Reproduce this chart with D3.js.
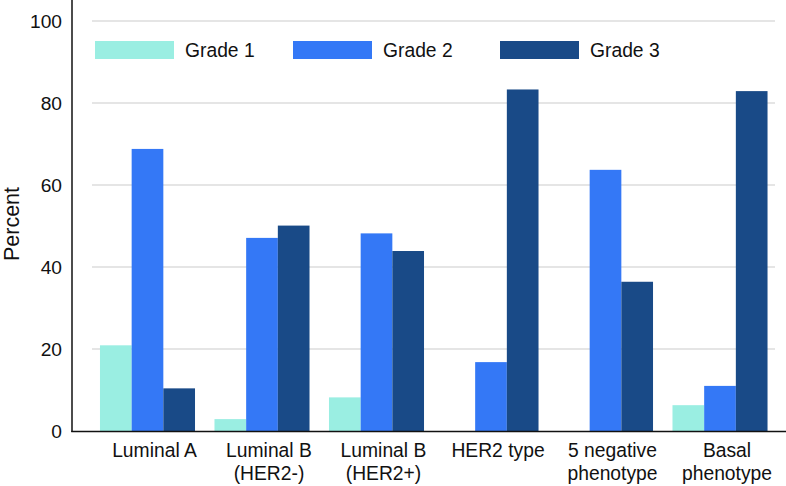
<!DOCTYPE html>
<html>
<head>
<meta charset="utf-8">
<script src="https://cdn.jsdelivr.net/npm/d3@7"></script>
<style>
  html, body { margin: 0; padding: 0; background: #fff; }
  svg { display: block; font-family: "Liberation Sans", Arial, Helvetica, sans-serif; }
</style>
</head>
<body>
<svg id="chart" width="786" height="486"></svg>
<script>
const categories = [["Luminal A"], ["Luminal B", "(HER2-)"], ["Luminal B", "(HER2+)"], ["HER2 type"], ["5 negative", "phenotype"], ["Basal", "phenotype"]];
const seriesNames = ["Grade 1", "Grade 2", "Grade 3"];
const grade1 = [20.9, 2.9, 8.2, 0, 0, 6.3];
const grade2 = [68.8, 47.1, 48.2, 16.8, 63.7, 11.0];
const grade3 = [10.4, 50.1, 43.9, 83.3, 36.4, 82.9];
const yTicks = [0, 20, 40, 60, 80, 100];
const colors = ["#9aeee2", "#3478f6", "#194a87"];

const series = [grade1, grade2, grade3];
const svg = d3.select("#chart");

const y = d3.scaleLinear().domain([0, 100]).range([431, 21]);
const x0 = d3.scaleBand().domain(d3.range(categories.length)).range([91.5, 776]).paddingInner(0.17).paddingOuter(0.074);
const x1 = d3.scaleBand().domain(d3.range(seriesNames.length)).range([0, x0.bandwidth()]);

// gridlines
svg.append("g").selectAll("line").data(yTicks.filter(d => d > 0)).join("line")
  .attr("x1", 92).attr("x2", 775)
  .attr("y1", d => y(d)).attr("y2", d => y(d))
  .attr("stroke", "#dcdcdc").attr("stroke-width", 1.5);

// bars
const groups = svg.append("g").selectAll("g").data(categories).join("g")
  .attr("transform", (d, i) => `translate(${x0(i)},0)`);
groups.selectAll("rect").data((d, i) => series.map((s, j) => ({ j, v: s[i] }))).join("rect")
  .attr("x", d => x1(d.j)).attr("width", x1.bandwidth())
  .attr("y", d => y(d.v)).attr("height", d => y(0) - y(d.v))
  .attr("fill", d => colors[d.j]);

// y axis
const yAxis = d3.axisLeft(y).tickValues(yTicks).tickSize(0).tickPadding(10);
const yg = svg.append("g").attr("transform", "translate(72,0)").call(yAxis);
yg.select(".domain").remove();
yg.selectAll("text").attr("font-size", 19.2).attr("fill", "#111").attr("font-family", "Liberation Sans, Arial, sans-serif");
svg.append("line").attr("x1", 72).attr("x2", 72).attr("y1", 0).attr("y2", 432)
  .attr("stroke", "#111").attr("stroke-width", 1.5);

// x axis baseline
svg.append("line").attr("x1", 71.25).attr("x2", 786).attr("y1", 431.5).attr("y2", 431.5)
  .attr("stroke", "#111").attr("stroke-width", 1.5);

// category labels
const cl = svg.append("g").selectAll("text").data(categories).join("text")
  .attr("x", (d, i) => x0(i) + x0.bandwidth() / 2 + 7)
  .attr("y", 457)
  .attr("text-anchor", "middle")
  .attr("font-size", 19.3).attr("fill", "#111");
cl.selectAll("tspan").data(d => d).join("tspan")
  .attr("x", function() { return d3.select(this.parentNode).attr("x"); })
  .attr("dy", (d, i) => i === 0 ? 0 : 23)
  .text(d => d);

// y label
svg.append("text").attr("transform", "translate(19,224) rotate(-90)")
  .attr("text-anchor", "middle").attr("font-size", 21.5).attr("fill", "#111").text("Percent");

// legend
const legendX = [95, 293, 500];
const lg = svg.append("g").selectAll("g").data(seriesNames).join("g")
  .attr("transform", (d, i) => `translate(${legendX[i]},41)`);
lg.append("rect").attr("width", 79).attr("height", 18).attr("fill", (d, i) => colors[i]);
lg.append("text").attr("x", 90).attr("y", 16).attr("font-size", 19.3).attr("fill", "#111").text(d => d);
</script>
</body>
</html>
